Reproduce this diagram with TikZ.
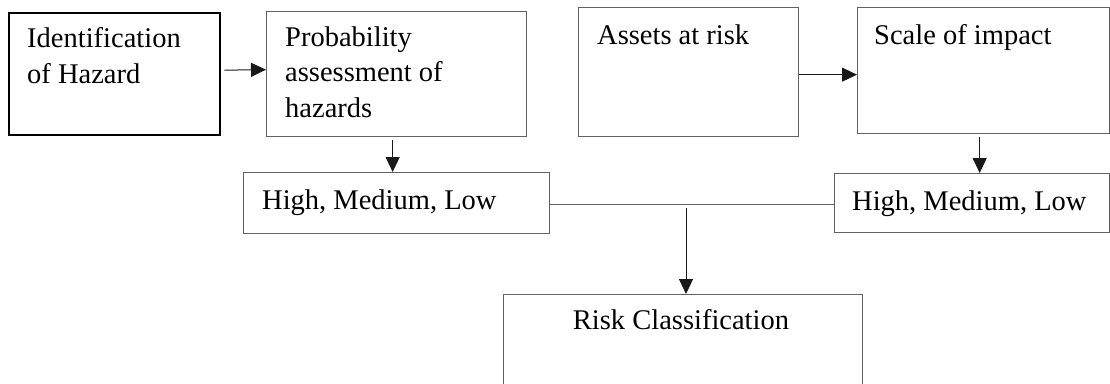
\documentclass[tikz,border=0pt]{standalone}
\usepackage{fontspec}
\setmainfont{Liberation Serif}
\usetikzlibrary{arrows.meta}
\begin{document}
\begin{tikzpicture}[x=1pt,y=-1pt,
  boxg/.style={draw=black!62,line width=1.3pt,rectangle,inner sep=0pt,anchor=north west},
  boxk/.style={draw=black,line width=2.4pt,rectangle,inner sep=0pt,anchor=north west},
  txt/.style={inner sep=0pt,anchor=base west,text=black,font=\fontsize{28.5}{35.5}\selectfont},
  txtc/.style={inner sep=0pt,anchor=base,text=black,font=\fontsize{28.5}{35.5}\selectfont},
  arr/.style={draw=black!90,line width=1pt,-{Triangle[length=15pt,width=14pt]}},
  link/.style={draw=black!62,line width=1.3pt}
]
\useasboundingbox (0,0) rectangle (1110,383);
\clip (0,0) rectangle (1110,383);
% boxes
\node[boxk,minimum width=211pt,minimum height=122pt] (b1) at (8,12) {};
\node[boxg,minimum width=260pt,minimum height=125pt] (b2) at (266,11) {};
\node[boxg,minimum width=220pt,minimum height=129pt] (b3) at (578,7) {};
\node[boxg,minimum width=252pt,minimum height=126pt] (b4) at (857,7) {};
\node[boxg,minimum width=306pt,minimum height=61pt] (h1) at (243,172) {};
\node[boxg,minimum width=275pt,minimum height=59pt] (h2) at (834,173) {};
\node[boxg,minimum width=359pt,minimum height=140pt] (rc) at (503,294) {};
% texts
\node[txt] (t1a) at (27,47) {Identification};
\node[txt] (t1b) at (27,83) {of Hazard};
\node[txt] (t2a) at (285,46) {Probability};
\node[txt] (t2b) at (285,81) {assessment of};
\node[txt] (t2c) at (285,117) {hazards};
\node[txt] (t3) at (597,44) {Assets at risk};
\node[txt] (t4) at (874,44) {Scale of impact};
\node[txt] (th1) at (262,209) {High, Medium, Low};
\node[txt] (th2) at (852,210) {High, Medium, Low};
\node[txtc] (trc) at (681,329) {Risk Classification};
% connectors
\draw[arr,shorten <=3pt] ([yshift=4pt]b1.east) -- ([yshift=4.5pt]b2.west);
\draw[arr] ([yshift=-2.5pt]b3.east) -- ([yshift=-4pt]b4.west);
\draw[arr,shorten <=3pt] ([xshift=-4pt]b2.south) -- ([xshift=-4pt]h1.north);
\draw[arr,shorten <=3pt] ([xshift=-4pt]b4.south) -- ([xshift=7.5pt]h2.north);
\draw[link] ([yshift=-1.5pt]h1.east) -- ([yshift=-1.5pt]h2.west);
\coordinate (j) at (686,208);
\draw[arr] (j) -- (j |- rc.north);
\end{tikzpicture}
\end{document}
